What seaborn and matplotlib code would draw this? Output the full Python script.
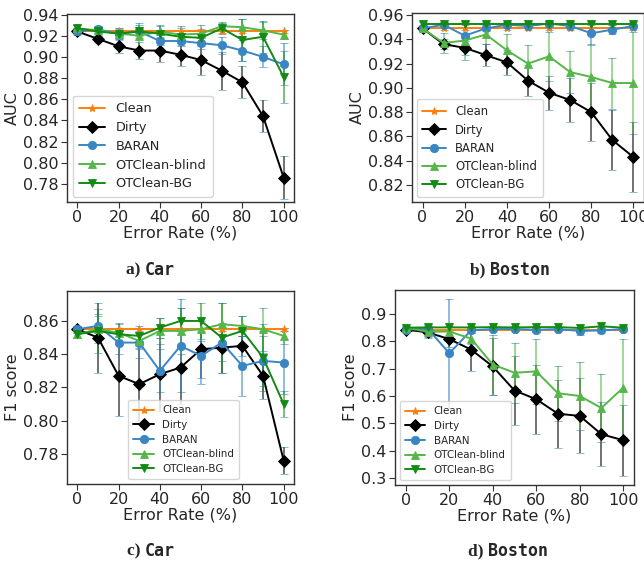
import numpy as np
import pandas as pd
import matplotlib
matplotlib.use("Agg")
import matplotlib.pyplot as plt
import seaborn as sns

x_rates = [0, 10, 20, 30, 40, 50, 60, 70, 80, 90, 100]
methods = ["Clean", "Dirty", "BARAN", "OTClean-blind", "OTClean-BG"]

# Panel a: Car AUC
car_auc = {
    "Clean": [0.924] * 11,
    "Dirty": [0.924, 0.917, 0.910, 0.906, 0.906, 0.902, 0.897, 0.887, 0.876, 0.844, 0.786],
    "BARAN": [0.924, 0.926, 0.922, 0.924, 0.915, 0.915, 0.913, 0.911, 0.906, 0.900, 0.893],
    "OTClean-blind": [0.927, 0.925, 0.922, 0.920, 0.924, 0.921, 0.922, 0.929, 0.928, 0.925, 0.921],
    "OTClean-BG": [0.927, 0.924, 0.922, 0.924, 0.922, 0.919, 0.918, 0.927, 0.916, 0.919, 0.881],
}
car_auc_err = {
    "Clean": [0.001] * 11,
    "Dirty": [0.003, 0.003, 0.006, 0.008, 0.011, 0.011, 0.014, 0.018, 0.015, 0.015, 0.020],
    "BARAN": [0.002, 0.003, 0.004, 0.004, 0.004, 0.005, 0.006, 0.008, 0.010, 0.010, 0.020],
    "OTClean-blind": [0.003, 0.004, 0.005, 0.012, 0.006, 0.008, 0.008, 0.004, 0.008, 0.008, 0.004],
    "OTClean-BG": [0.003, 0.004, 0.005, 0.006, 0.007, 0.008, 0.008, 0.005, 0.020, 0.015, 0.025],
}

# Panel b: Boston AUC
boston_auc = {
    "Clean": [0.949] * 11,
    "Dirty": [0.949, 0.936, 0.933, 0.927, 0.921, 0.906, 0.896, 0.890, 0.880, 0.857, 0.843],
    "BARAN": [0.949, 0.952, 0.943, 0.949, 0.952, 0.951, 0.953, 0.951, 0.945, 0.948, 0.951],
    "OTClean-blind": [0.949, 0.937, 0.939, 0.944, 0.931, 0.920, 0.926, 0.913, 0.909, 0.904, 0.904],
    "OTClean-BG": [0.953] * 11,
}
boston_auc_err = {
    "Clean": [0.001] * 11,
    "Dirty": [0.002, 0.004, 0.006, 0.009, 0.010, 0.013, 0.014, 0.018, 0.024, 0.025, 0.029],
    "BARAN": [0.001, 0.002, 0.002, 0.002, 0.002, 0.002, 0.002, 0.002, 0.010, 0.004, 0.002],
    "OTClean-blind": [0.002, 0.008, 0.016, 0.008, 0.013, 0.015, 0.020, 0.017, 0.027, 0.021, 0.042],
    "OTClean-BG": [0.001] * 11,
}

# Panel c: Car F1
car_f1 = {
    "Clean": [0.855] * 11,
    "Dirty": [0.855, 0.850, 0.827, 0.822, 0.828, 0.832, 0.843, 0.844, 0.845, 0.827, 0.776],
    "BARAN": [0.855, 0.857, 0.847, 0.847, 0.830, 0.845, 0.839, 0.847, 0.833, 0.836, 0.835],
    "OTClean-blind": [0.852, 0.855, 0.853, 0.848, 0.854, 0.854, 0.855, 0.858, 0.857, 0.855, 0.851],
    "OTClean-BG": [0.852, 0.854, 0.852, 0.851, 0.856, 0.860, 0.860, 0.850, 0.854, 0.838, 0.810],
}
car_f1_err = {
    "Clean": [0.001] * 11,
    "Dirty": [0.002, 0.021, 0.024, 0.022, 0.022, 0.022, 0.017, 0.015, 0.006, 0.014, 0.008],
    "BARAN": [0.002, 0.007, 0.007, 0.009, 0.013, 0.028, 0.017, 0.011, 0.018, 0.015, 0.019],
    "OTClean-blind": [0.002, 0.008, 0.006, 0.005, 0.008, 0.014, 0.007, 0.013, 0.006, 0.013, 0.005],
    "OTClean-BG": [0.002, 0.013, 0.006, 0.006, 0.006, 0.008, 0.011, 0.021, 0.009, 0.020, 0.008],
}

# Panel d: Boston F1
boston_f1 = {
    "Clean": [0.843] * 11,
    "Dirty": [0.843, 0.833, 0.808, 0.770, 0.708, 0.620, 0.588, 0.535, 0.527, 0.460, 0.438],
    "BARAN": [0.843, 0.847, 0.756, 0.840, 0.845, 0.845, 0.842, 0.845, 0.838, 0.840, 0.845],
    "OTClean-blind": [0.850, 0.835, 0.836, 0.810, 0.715, 0.685, 0.690, 0.610, 0.600, 0.556, 0.630],
    "OTClean-BG": [0.850, 0.851, 0.851, 0.851, 0.852, 0.851, 0.852, 0.852, 0.849, 0.855, 0.850],
}
boston_f1_err = {
    "Clean": [0.003] * 11,
    "Dirty": [0.010, 0.020, 0.030, 0.080, 0.105, 0.125, 0.127, 0.125, 0.137, 0.117, 0.130],
    "BARAN": [0.010, 0.012, 0.200, 0.010, 0.008, 0.008, 0.008, 0.008, 0.015, 0.008, 0.008],
    "OTClean-blind": [0.005, 0.020, 0.020, 0.020, 0.110, 0.110, 0.120, 0.100, 0.125, 0.125, 0.180],
    "OTClean-BG": [0.005, 0.005, 0.005, 0.005, 0.005, 0.005, 0.005, 0.005, 0.005, 0.008, 0.005],
}

colors = {"Clean": "#ff7f0e", "Dirty": "black", "BARAN": "#3a86c4",
          "OTClean-blind": "#55b748", "OTClean-BG": "#138a13"}
markers = {"Clean": "*", "Dirty": "D", "BARAN": "o", "OTClean-blind": "^", "OTClean-BG": "v"}

sns.set_style("ticks")
plt.rcParams['font.family'] = ['DejaVu Sans']

fig = plt.figure(figsize=(6.44, 5.62), dpi=100)
W, H = 644, 562

def add_ax(l, t, r, b):
    return fig.add_axes([l / W, 1 - b / H, (r - l) / W, (b - t) / H])

panels = [
    (add_ax(67, 14, 294, 202), car_auc, car_auc_err, "AUC", (0.763, 0.9405),
     np.arange(0.78, 0.941, 0.02), (0.026, 0.027), 9.3, "{:.2f}"),
    (add_ax(412, 13, 644, 202), boston_auc, boston_auc_err, "AUC", (0.806, 0.9617),
     np.arange(0.82, 0.961, 0.02), (0.02, 0.026), 8.4, "{:.2f}"),
    (add_ax(67, 291, 294, 484), car_f1, car_f1_err, "F1 score", (0.762, 0.878),
     np.arange(0.78, 0.861, 0.02), (0.27, 0.026), 7.4, "{:.2f}"),
    (add_ax(395, 290, 634, 485), boston_f1, boston_f1_err, "F1 score", (0.274, 0.988),
     np.arange(0.3, 0.91, 0.1), (0.02, 0.026), 7.4, "{:.1f}"),
]

for ax, vals, errs, ylabel, ylim, yticks, anchor, lfs, fmt in panels:
    rows = []
    for m in methods:
        for xv, yv in zip(x_rates, vals[m]):
            rows.append({"x": xv, "y": yv, "method": m})
    df = pd.DataFrame(rows)
    for m in methods:
        sub = df[df.method == m]
        ax.errorbar(sub.x, sub.y, yerr=errs[m], fmt="none", ecolor=colors[m],
                    alpha=0.6, capsize=3, elinewidth=1.3, capthick=1.3, zorder=2)
    sns.lineplot(data=df, x="x", y="y", hue="method", style="method",
                 palette=colors, markers=markers, dashes=False, ax=ax,
                 markersize=6, linewidth=1.4, zorder=3)
    for ln in ax.lines:
        ln.set_markeredgecolor(ln.get_color())
        ln.set_markeredgewidth(0.6)
    ax.set_xlim(-5, 105)
    ax.set_ylim(*ylim)
    ax.set_xticks([0, 20, 40, 60, 80, 100])
    ax.set_yticks(yticks)
    ax.set_yticklabels([fmt.format(t) for t in yticks])
    ax.tick_params(labelsize=11.5, length=4, color="#333333", pad=2)
    ax.set_xlabel("Error Rate (%)", fontsize=11.5, labelpad=0)
    ax.set_ylabel(ylabel, fontsize=11.5, labelpad=2)
    for s in ax.spines.values():
        s.set_color("#333333")
        s.set_linewidth(1.0)
    leg = ax.legend(loc="lower left", bbox_to_anchor=anchor, fontsize=lfs,
                    title=None, frameon=True, borderpad=0.5, labelspacing=0.45,
                    handlelength=2.0, borderaxespad=0)
    leg.get_frame().set_edgecolor("#cccccc")
    for h in leg.legend_handles:
        h.set_markeredgecolor(h.get_color())
        h.set_markeredgewidth(0.6)

caps = [("a)", "Car", 155, 270), ("b)", "Boston", 500, 270),
        ("c)", "Car", 155, 551), ("d)", "Boston", 498, 551)]
for lab, name, cx, cy in caps:
    fig.text((cx - 10) / W, 1 - cy / H, lab + " ", ha="right", va="center",
             fontsize=12.5, fontweight="bold", family="Liberation Serif")
    fig.text((cx - 10) / W, 1 - cy / H, name, ha="left", va="center",
             fontsize=12, fontweight="bold", family="DejaVu Sans Mono")

fig.savefig("out.png", dpi=100)
